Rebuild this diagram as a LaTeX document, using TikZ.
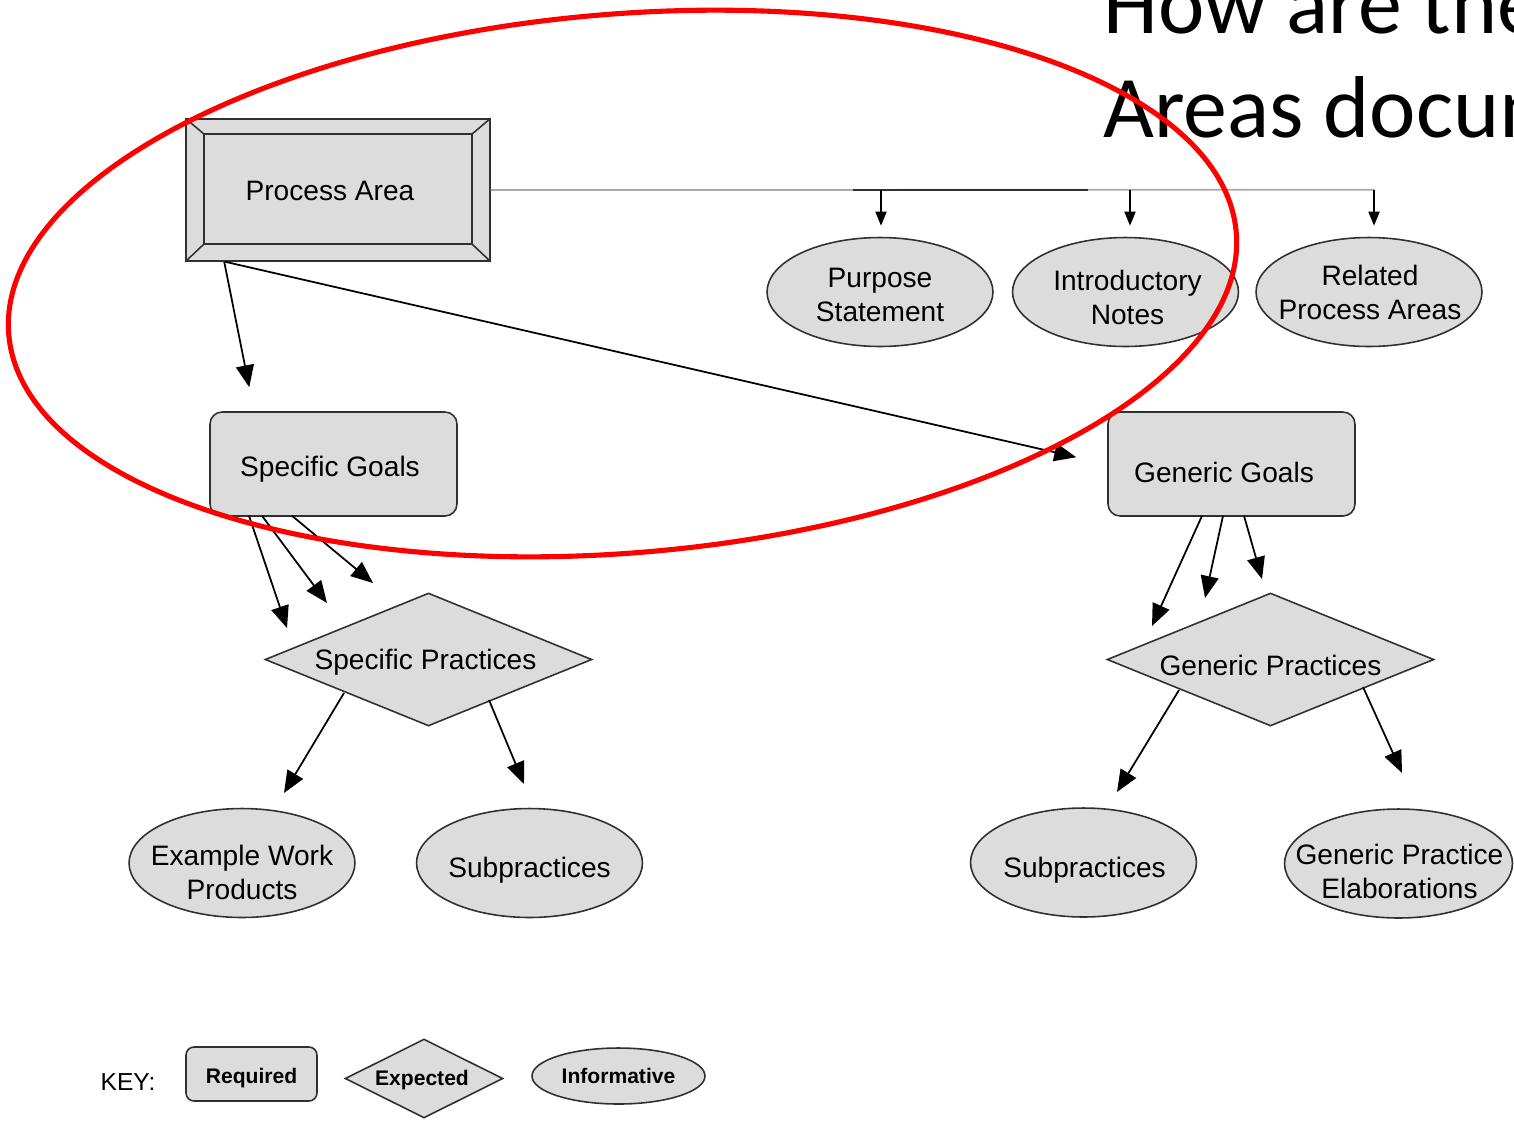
\documentclass[tikz,border=0pt]{standalone}
\usepackage{fontspec}
\setmainfont{Liberation Sans}
\newfontfamily\titlefont{Carlito}
\usetikzlibrary{shapes.geometric,arrows.meta,calc}
\definecolor{boxfill}{HTML}{DCDCDC}
\definecolor{edge}{HTML}{303030}
\definecolor{ring}{HTML}{FF0000}
\definecolor{busgray}{HTML}{A8A8A8}
\begin{document}
\begin{tikzpicture}[x=0.02cm,y=-0.02cm,
  every node/.style={font=\fontsize{16}{19.3}\selectfont, text=black, inner sep=0pt, align=center},
  base/.style={draw=edge, fill=boxfill, line width=0.9pt},
  reqbox/.style={base, rectangle, rounded corners=0.24cm, minimum width=4.94cm, minimum height=2.08cm},
  expbox/.style={base, diamond, aspect=2.46, minimum width=6.54cm, minimum height=2.66cm},
  infobox/.style={base, ellipse, inner xsep=-0.7cm, minimum width=4.52cm, minimum height=2.18cm},
  keyfont/.style={font=\bfseries\fontsize{12}{14}\selectfont},
  link/.style={draw=black, line width=1pt, -{Triangle[length=0.44cm,width=0.36cm]}},
  drop/.style={draw=black, line width=1pt, -{Triangle[length=0.28cm,width=0.22cm]}},
]
\useasboundingbox (0,0) rectangle (1514,1120);
\clip (0,0) rectangle (1514,1120);

% heading, running off the page
\node[anchor=base west, font=\titlefont\fontsize{50}{60}\selectfont] (head1) at (1103,33) {How are the};
\node[anchor=base west, font=\titlefont\fontsize{50}{60}\selectfont] (head2) at (1103,137) {Areas docum};

% process area (bevelled box)
\node[base, rectangle, minimum width=6.08cm, minimum height=2.84cm] (pa) at (338,190) {};
\draw[edge, line width=0.9pt] ($(pa.north west)+(19,16)$) coordinate (inw) rectangle ($(pa.south east)+(-19,-18)$) coordinate (ise);
\coordinate (ine) at (inw -| ise);
\coordinate (isw) at (ise -| inw);
\draw[edge, line width=0.9pt] (pa.north west) -- (inw) (pa.north east) -- (ine)
  (pa.south east) -- (ise) (pa.south west) -- (isw);
\node (patext) at (330,191) {Process Area};

% informative components
\node[infobox] (ps) at (880,292) {};
\node (pst) at ($(ps)+(0,3)$) {Purpose\\Statement};
\node[infobox] (intro) at (1125.5,292) {};
\node (introt) at ($(intro)+(2,5)$) {Introductory\\Notes};
\node[infobox] (rel) at (1369,292) {};
\node (relt) at ($(rel)+(1,0)$) {Related\\Process Areas};

% goals
\node[reqbox] (sg) at (333.5,464) {};
\node (sgt) at ($(sg)+(-3.5,5)$) {Specific Goals};
\node[reqbox] (gg) at (1231.5,464) {};
\node (ggt) at ($(gg)+(-7.5,8)$) {Generic Goals};

% practices
\node[expbox] (sp) at (428.5,659.5) {};
\node (spt) at ($(sp)+(-3,3)$) {Specific Practices};
\node[expbox] (gp) at (1270.5,659.5) {};
\node (gpt) at ($(gp)+(0,6)$) {Generic Practices};

% practice details
\node[infobox] (ewp) at (242,863) {};
\node (ewpt) at ($(ewp)+(0,9)$) {Example Work\\Products};
\node[infobox] (subl) at (529.5,863) {};
\node (sublt) at ($(subl)+(0,7)$) {Subpractices};
\node[infobox] (subr) at (1083.5,862.5) {};
\node (subrt) at ($(subr)+(1,8)$) {Subpractices};
\node[infobox, minimum width=4.56cm] (gpe) at (1398.5,863.5) {};
\node (gpet) at ($(gpe)+(1,8)$) {Generic Practice\\Elaborations};

% bus from the process area to the informative components
\draw[draw=busgray, line width=1pt] (pa.east) -- ($(rel.north)+(5,-47)$);
\draw[draw=edge, line width=1pt] ($(ps.north)+(-27,-47)$) -- ($(intro.north)+(-38,-47)$);
\draw[drop] ($(ps.north)+(1,-47)$) -- ($(ps.north)+(1,-11)$);
\draw[drop] ($(intro.north)+(4.5,-47)$) -- ($(intro.north)+(4.5,-11)$);
\draw[drop] ($(rel.north)+(5,-47)$) -- ($(rel.north)+(5,-11)$);

% process area to goals
\draw[link] ($(pa.south west)+(39,0)$) -- ($(sg.north west)+(40,-24)$);
\draw[link] ($(pa.south west)+(40,0)$) -- ($(gg.north west)+(-31,46)$);

% goals to practices
\draw[link] ($(sg.south)+(-84.5,-1)$) -- ($(sp)+(-141.5,-31.5)$);
\draw[link] ($(sg.south)+(-71.5,-1)$) -- ($(sp)+(-101.5,-56.5)$);
\draw[link] ($(sg.south)+(-41.5,-1)$) -- ($(sp)+(-55.5,-76.5)$);
\draw[link] ($(gg.south)+(-29.5,-1)$) -- ($(gp)+(-118.5,-33.5)$);
\draw[link] ($(gg.south)+(-8.5,-1)$) -- ($(gp)+(-65.5,-61.5)$);
\draw[link] ($(gg.south)+(12.5,-1)$) -- ($(gp)+(-8.5,-80.5)$);

% practices to details
\draw[link] ($(sp)+(-84.5,33.5)$) -- ($(ewp)+(42,-70)$);
\draw[link] ($(sp)+(60.5,40.5)$) -- ($(subl)+(-5.5,-79)$);
\draw[link] ($(gp)+(-91.5,30.5)$) -- ($(subr)+(33.5,-70.5)$);
\draw[link] ($(gp)+(92.5,27.5)$) -- ($(gpe)+(3.5,-90.5)$);

% key
\node[font=\fontsize{14}{16}\selectfont] (key) at (128,1082) {KEY:};
\node[base, rectangle, rounded corners=0.16cm, minimum width=2.62cm, minimum height=1.08cm] (kreq) at (251.5,1074) {};
\node[keyfont] (kreqt) at ($(kreq)+(0,4)$) {Required};
\node[base, diamond, aspect=2, minimum width=3.16cm, minimum height=1.58cm] (kexp) at (424,1078.5) {};
\node[keyfont] (kexpt) at ($(kexp)+(-2,2)$) {Expected};
\node[base, ellipse, inner xsep=-0.3cm, minimum width=3.46cm, minimum height=1.12cm, keyfont] (kinf) at (618.5,1076) {Informative};

% red highlight ring
\draw[draw=ring, line width=2.9pt, rotate around={4.74:(622.5,283.5)}]
  (622.5,283.5) ellipse [x radius=12.32cm, y radius=5.39cm];
\end{tikzpicture}
\end{document}
